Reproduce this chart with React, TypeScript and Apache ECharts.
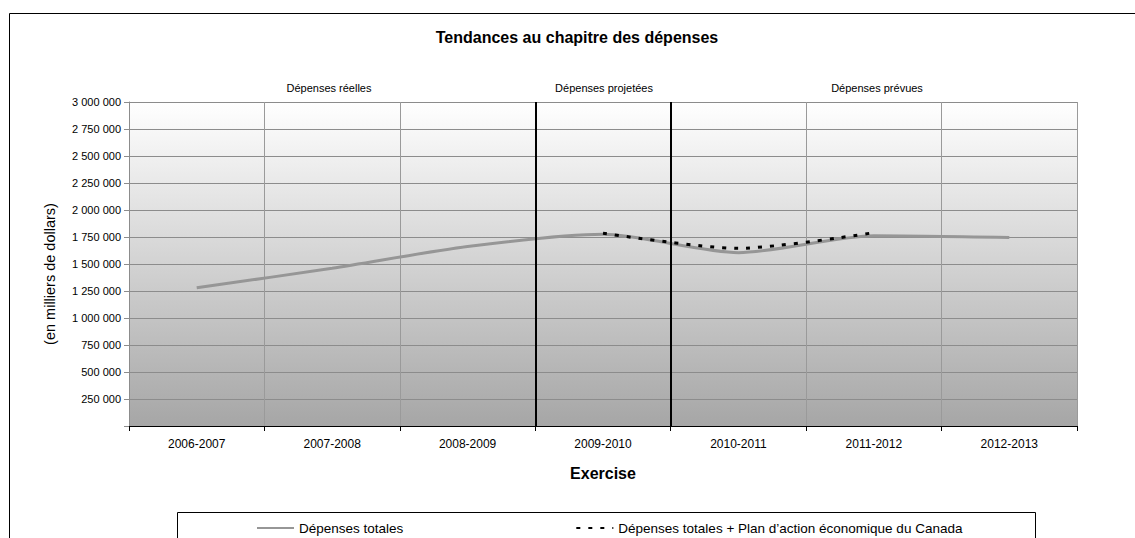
import React, { useEffect, useRef } from "react";
import * as echarts from "echarts";

const categories = ["2006-2007", "2007-2008", "2008-2009", "2009-2010", "2010-2011", "2011-2012", "2012-2013"];
const totalSpending = [1280000, 1460000, 1662000, 1775000, 1605000, 1762000, 1746000];
const totalWithPlan = [null, null, null, 1785000, 1645000, 1790000, null];
const yMin = 0;
const yMax = 3000000;
const yInterval = 250000;
const separatorPositions = [3, 4];
const sectionLabels = ["Dépenses réelles", "Dépenses projetées", "Dépenses prévues"];
const seriesNames = ["Dépenses totales", "Dépenses totales + Plan d’action économique du Canada"];
const titleText = "Tendances au chapitre des dépenses";
const xAxisName = "Exercise";
const yAxisName = "(en milliers de dollars)";

const FONT = "'Liberation Sans', Arial, Helvetica, sans-serif";

function fmt(v: number): string {
  if (v === 0) return "";
  return String(v).replace(/\B(?=(\d{3})+(?!\d))/g, " ");
}

export default function App() {
  const ref = useRef<HTMLDivElement>(null);
  useEffect(() => {
    document.body.style.margin = "0";
    if (!ref.current) return;
    const chart = echarts.init(ref.current, null, { renderer: "svg" });
    const option: any = {
      animation: false,
      backgroundColor: "#ffffff",
      textStyle: { fontFamily: FONT },
      grid: {
        left: 129,
        top: 102,
        width: 948,
        height: 324,
        containLabel: false,
        outerBoundsMode: "none",
        show: true,
        borderWidth: 0,
        backgroundColor: new echarts.graphic.LinearGradient(0, 0, 0, 1, [
          { offset: 0, color: "#ffffff" },
          { offset: 1, color: "#a6a6a6" },
        ]),
      },
      xAxis: [
        {
          type: "category",
          data: categories,
          boundaryGap: true,
          axisLine: { show: true, lineStyle: { color: "#000", width: 1 } },
          axisTick: { show: true, length: 5, lineStyle: { color: "#000" } },
          axisLabel: { fontSize: 12, color: "#000", margin: 12, interval: 0, fontFamily: FONT },
          splitLine: { show: true, lineStyle: { color: "#9a9a9a", width: 1 } },
        },
        {
          type: "value",
          min: 0,
          max: categories.length,
          show: false,
        },
      ],
      yAxis: {
        type: "value",
        min: yMin,
        max: yMax,
        interval: yInterval,
        axisLine: { show: true, lineStyle: { color: "#8c8c8c" } },
        axisTick: { show: true, length: 5, lineStyle: { color: "#8c8c8c" } },
        axisLabel: { fontSize: 11, color: "#000", margin: 8, formatter: fmt, fontFamily: FONT },
        splitLine: { show: true, lineStyle: { color: "#8c8c8c", width: 1 } },
      },
      legend: {
        left: 256,
        top: 521,
        padding: 0,
        itemWidth: 37,
        itemHeight: 14,
        itemGap: 172,
        data: seriesNames,
        itemStyle: { color: "rgba(0,0,0,0)", borderWidth: 0, opacity: 0 },
        textStyle: { fontSize: 13.5, color: "#000", fontFamily: FONT },
      },
      graphic: [
        {
          type: "rect",
          z: -10,
          shape: { x: 9.5, y: 13.5, width: 1200, height: 600 },
          style: { fill: "none", stroke: "#000", lineWidth: 1 },
        },
        {
          type: "rect",
          z: 0,
          shape: { x: 177.5, y: 512.5, width: 858, height: 60 },
          style: { fill: "#fff", stroke: "#000", lineWidth: 1 },
        },
        {
          type: "text",
          x: 577,
          y: 37,
          style: { text: titleText, font: `bold 16px ${FONT}`, fill: "#000", align: "center", verticalAlign: "middle" },
        },
        {
          type: "text",
          x: 329,
          y: 88,
          style: { text: sectionLabels[0], font: `11px ${FONT}`, fill: "#000", align: "center", verticalAlign: "middle" },
        },
        {
          type: "text",
          x: 604,
          y: 88,
          style: { text: sectionLabels[1], font: `11px ${FONT}`, fill: "#000", align: "center", verticalAlign: "middle" },
        },
        {
          type: "text",
          x: 877,
          y: 88,
          style: { text: sectionLabels[2], font: `11px ${FONT}`, fill: "#000", align: "center", verticalAlign: "middle" },
        },
        {
          type: "text",
          x: 603,
          y: 473,
          style: { text: xAxisName, font: `bold 16px ${FONT}`, fill: "#000", align: "center", verticalAlign: "middle" },
        },
        {
          type: "text",
          x: 50,
          y: 274,
          rotation: Math.PI / 2,
          style: { text: yAxisName, font: `14.5px ${FONT}`, fill: "#000", align: "center", verticalAlign: "middle" },
        },
      ],
      series: [
        {
          name: seriesNames[0],
          type: "line",
          data: totalSpending,
          symbol: "none",
          smooth: 0.25,
          z: 3,
          lineStyle: { color: "#969696", width: 3 },
          itemStyle: { color: "#969696" },
        },
        {
          name: seriesNames[1],
          type: "line",
          data: totalWithPlan,
          symbol: "none",
          smooth: 0.25,
          connectNulls: false,
          z: 4,
          lineStyle: { color: "#000", width: 3, type: [4, 8] },
          itemStyle: { color: "#000" },
        },
        {
          name: "separators",
          type: "line",
          xAxisIndex: 1,
          yAxisIndex: 0,
          data: [],
          z: 5,
          silent: true,
          markLine: {
            silent: true,
            symbol: "none",
            label: { show: false },
            lineStyle: { color: "#000", width: 2, type: "solid" },
            data: separatorPositions.map((v) => ({ xAxis: v })),
          },
        },
      ],
    };
    chart.setOption(option);
    return () => chart.dispose();
  }, []);
  return <div ref={ref} style={{ width: 1135, height: 538 }} />;
}
